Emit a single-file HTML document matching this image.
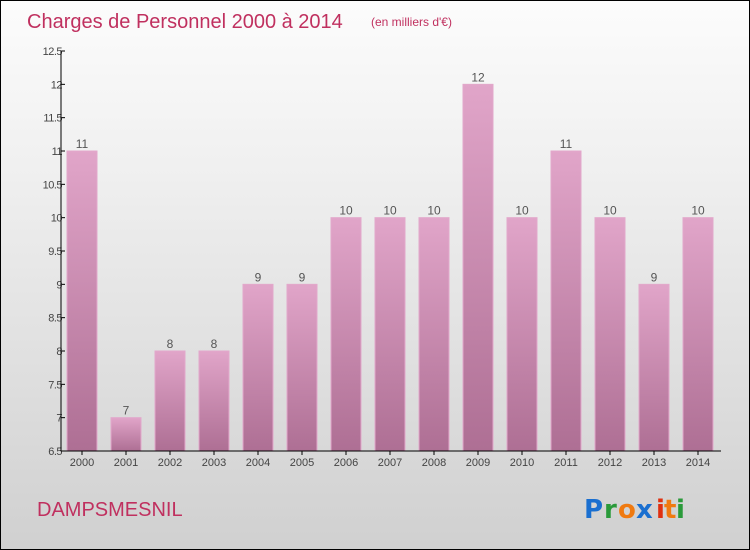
<!DOCTYPE html>
<html><head><meta charset="utf-8"><style>
body{margin:0}
#wrap{width:748px;height:548px;border:1px solid #000;position:relative;background:linear-gradient(#fcfcfc,#f0f0f0 30%,#d0d0d0);font-family:"Liberation Sans",sans-serif;overflow:hidden}
</style></head><body>
<div id="wrap">
<svg width="748" height="548">
<defs>
<linearGradient id="bg" x1="0" y1="0" x2="0" y2="1"><stop offset="0" stop-color="#e1a5c9"/><stop offset="1" stop-color="#ae6f94"/></linearGradient>
</defs>
<text x="26" y="27" font-size="20" fill="#c0305f">Charges de Personnel 2000 à 2014</text>
<text x="370" y="25" font-size="12" fill="#c0305f">(en milliers d'€)</text>
<g id="plot"></g>
<text x="36" y="515" font-size="20" fill="#c0305f">DAMPSMESNIL</text>
<g font-size="26" font-weight="bold" font-family="'DejaVu Sans',sans-serif">
<text x="583" y="517" fill="#1a6fd0">P</text><text x="603" y="517" fill="#2a9a3a">r</text><text x="617" y="517" fill="#f07a10">o</text><text x="635" y="517" fill="#1a6fd0">x</text><text x="655" y="517" fill="#e03010">i</text><text x="663" y="517" fill="#f07a10">t</text><text x="675" y="517" fill="#2a9a3a">i</text>
</g>
</svg>
</div>
<script>
const years=["2000","2001","2002","2003","2004","2005","2006","2007","2008","2009","2010","2011","2012","2013","2014"];
const values=[11,7,8,8,9,9,10,10,10,12,10,11,10,9,10];
const yTicks=["6.5","7","7.5","8","8.5","9","9.5","10","10.5","11","11.5","12","12.5"];
const NS="http://www.w3.org/2000/svg";
const g=document.getElementById('plot');
const yMin=6.5,yMax=12.5,plotTop=50,plotBot=450,axX=60;
const y=v=>plotBot-(v-yMin)/(yMax-yMin)*(plotBot-plotTop);
const x=i=>81+44*i;
function mk(t,a,p){const e=document.createElementNS(NS,t);for(const k in a)e.setAttribute(k,a[k]);(p||g).appendChild(e);return e;}
values.forEach((v,i)=>{
 const r=mk('rect',{x:x(i)-15,y:y(v),width:30,height:plotBot-y(v),fill:'url(#bg)',stroke:'#e2a8cb','stroke-width':1});
 
 
 const t=mk('text',{x:x(i),y:y(v)-3,'text-anchor':'middle','font-size':12,fill:'#555'});t.textContent=v;
 
 
 const xl=mk('text',{x:x(i),y:plotBot+15,'text-anchor':'middle','font-size':11,fill:'#444'});xl.textContent=years[i];
 
 
 mk('line',{x1:x(i),x2:x(i),y1:plotBot,y2:plotBot+4,stroke:'#000'});
});
yTicks.forEach(s=>{
 const v=parseFloat(s);
 mk('line',{x1:axX,x2:axX+4,y1:y(v),y2:y(v),stroke:'#000'});
 const t=mk('text',{x:axX+1,y:y(v)+4,'text-anchor':'end','font-size':11,fill:'#444','letter-spacing':'-0.5'});t.textContent=s;
 
 
});
const ya=mk('line',{x1:axX,x2:axX,y1:plotTop,y2:plotBot,stroke:'#000'});


const xa=mk('line',{x1:axX,x2:720,y1:plotBot,y2:plotBot,stroke:'#000'});


</script>
</body></html>
